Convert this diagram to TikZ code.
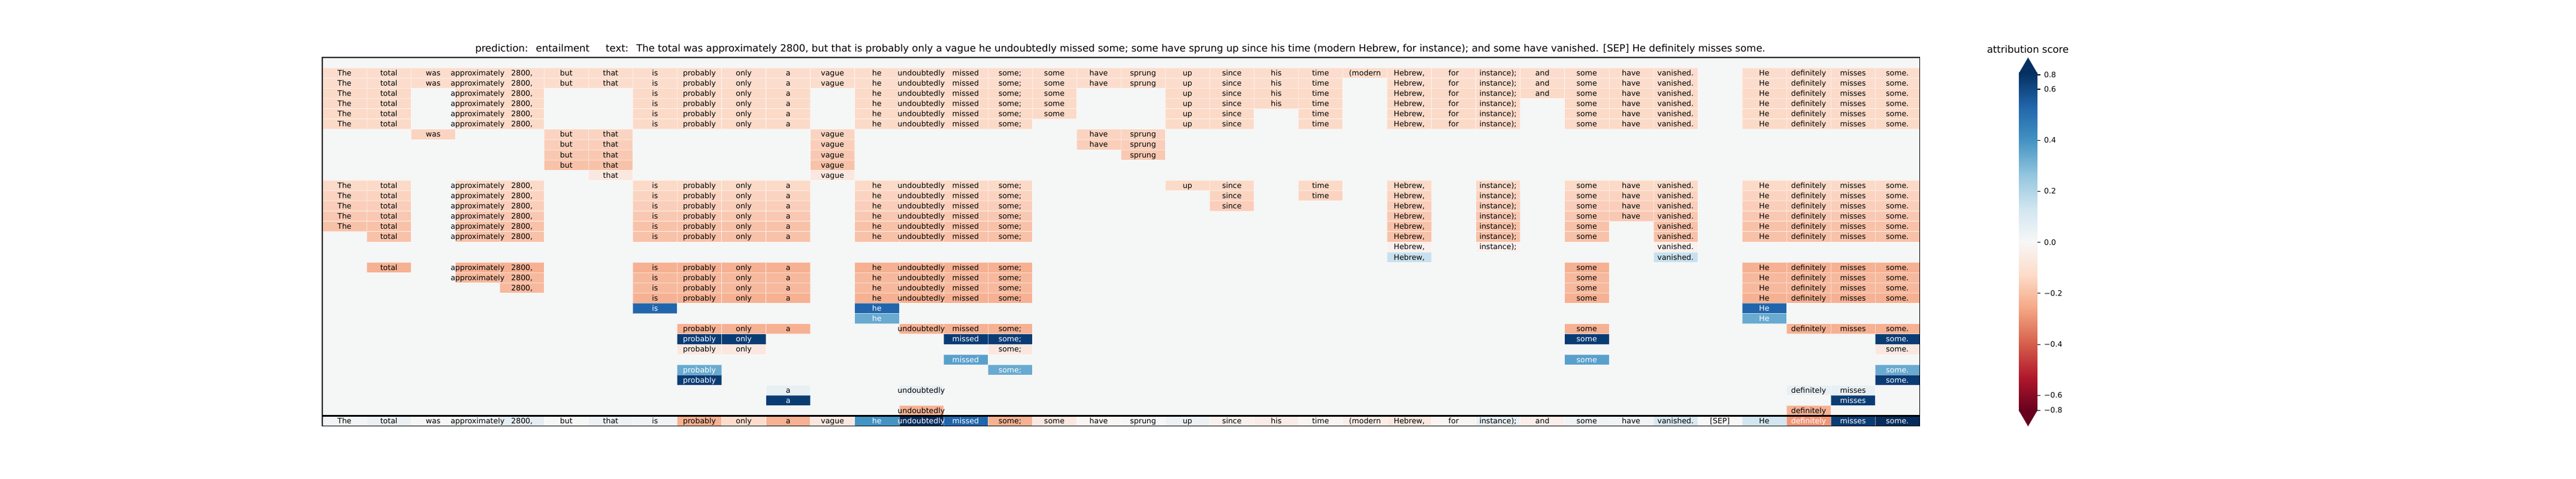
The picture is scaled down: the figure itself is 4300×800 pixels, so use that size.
\documentclass[tikz,border=0pt]{standalone}
\usepackage{fontspec}
\setmainfont{DejaVu Sans}
\usepackage{tikz}

% colour of a cell and colour of its text
\newcommand\hmcolor[3]{\definecolor{#1}{RGB}{#2}\colorlet{#1txt}{#3}}
\hmcolor{bg}{245,246,246}{black}
\hmcolor{r0}{250,240,237}{black}
\hmcolor{r1}{250,232,224}{black}
\hmcolor{r2}{252,221,205}{black}
\hmcolor{r3}{252,218,200}{black}
\hmcolor{r4}{251,212,193}{black}
\hmcolor{r5}{250,206,186}{black}
\hmcolor{r6}{249,200,178}{black}
\hmcolor{r7}{248,194,169}{black}
\hmcolor{r8}{247,185,157}{black}
\hmcolor{r9}{246,177,147}{black}
\hmcolor{rx}{241,150,120}{white}
\hmcolor{b0}{232,240,244}{black}
\hmcolor{b1}{201,225,238}{black}
\hmcolor{b2}{104,170,208}{white}
\hmcolor{b3}{88,160,204}{white}
\hmcolor{bm}{67,147,195}{white}
\hmcolor{b4}{33,102,172}{white}
\hmcolor{b5}{10,60,116}{white}
\hmcolor{b6}{5,45,92}{white}
\hmcolor{n1}{242,244,246}{black}
\hmcolor{n2}{234,240,244}{black}
\hmcolor{n3}{246,246,246}{black}
\hmcolor{n4}{239,243,246}{black}
\hmcolor{n5}{228,237,243}{black}
\hmcolor{n6}{245,246,246}{black}
\hmcolor{n7}{235,241,245}{black}
\hmcolor{n8}{240,243,246}{black}
\hmcolor{n9}{248,245,243}{black}
\hmcolor{n10}{245,246,247}{black}
\hmcolor{n11}{236,241,245}{black}
\hmcolor{n12}{249,240,236}{black}
\hmcolor{n13}{249,235,229}{black}
\hmcolor{n14}{248,244,242}{black}
\hmcolor{n15}{250,236,230}{black}
\hmcolor{n16}{248,244,242}{black}
\hmcolor{n17}{230,239,245}{black}
\hmcolor{n18}{249,238,233}{black}
\hmcolor{n19}{238,243,246}{black}
\hmcolor{n20}{240,244,246}{black}
\hmcolor{n21}{215,232,241}{black}
\hmcolor{n22}{247,247,247}{black}
\hmcolor{n23}{210,229,240}{black}

% colorbar stops
\definecolor{cb0}{RGB}{103,0,31}
\definecolor{cb1}{RGB}{178,24,43}
\definecolor{cb2}{RGB}{214,96,77}
\definecolor{cb3}{RGB}{244,165,130}
\definecolor{cb4}{RGB}{253,219,199}
\definecolor{cb5}{RGB}{247,247,247}
\definecolor{cb6}{RGB}{209,229,240}
\definecolor{cb7}{RGB}{146,197,222}
\definecolor{cb8}{RGB}{67,147,195}
\definecolor{cb9}{RGB}{33,102,172}
\definecolor{cb10}{RGB}{5,48,97}

% tokens, one per column
\foreach \w [count=\i] in {The,total,was,approximately,{2800,},but,that,is,probably,only,a,vague,he,undoubtedly,missed,{some;},some,have,sprung,up,since,his,time,{(modern},{Hebrew,},for,{instance);},and,some,have,vanished.,{[SEP]},He,definitely,misses,some.}
  {\expandafter\xdef\csname tk\i\endcsname{\w}}

% row / colour / columns
\def\hmrows{%
  1/r2/{1,2,3,4,5,6,7,8,9,10,11,12,13,14,15,16,17,18,19,20,21,22,23,24,25,26,27,28,29,30,31,33,34,35,36},
  2/r2/{1,2,3,4,5,6,7,8,9,10,11,12,13,14,15,16,17,18,19,20,21,22,23,25,26,27,28,29,30,31,33,34,35,36},
  3/r3/{1,2,4,5,8,9,10,11,13,14,15,16,17,20,21,22,23,25,26,27,28,29,30,31,33,34,35,36},
  4/r3/{1,2,4,5,8,9,10,11,13,14,15,16,17,20,21,22,23,25,26,27,29,30,31,33,34,35,36},
  5/r3/{1,2,4,5,8,9,10,11,13,14,15,16,17,20,21,23,25,26,27,29,30,31,33,34,35,36},
  6/r3/{1,2,4,5,8,9,10,11,13,14,15,16,20,21,23,25,26,27,29,30,31,33,34,35,36},
  7/r4/{3,6,7,12,18,19},
  8/r5/{6,7,12,18,19},
  9/r6/{6,7,12,19},
  10/r7/{6,7,12},
  11/r1/{7,12},
  12/r3/{1,2,4,5,8,9,10,11,13,14,15,16,20,21,23,25,27,29,30,31,33,34,35,36},
  13/r4/{1,2,4,5,8,9,10,11,13,14,15,16,21,23,25,27,29,30,31,33,34,35,36},
  14/r5/{1,2,4,5,8,9,10,11,13,14,15,16,21,25,27,29,30,31,33,34,35,36},
  15/r6/{1,2,4,5,8,9,10,11,13,14,15,16,25,27,29,30,31,33,34,35,36},
  16/r7/{1,2,4,5,8,9,10,11,13,14,15,16,25,27,29,31,33,34,35,36},
  17/r7/{2,4,5,8,9,10,11,13,14,15,16,25,27,29,31,33,34,35,36},
  18/r0/{25,27,31},
  19/b1/{25,31},
  20/r9/{2,4,5,8,9,10,11,13,14,15,16,29,33,34,35,36},
  21/r8/{4,5,8,9,10,11,13,14,15,16,29,33,34,35,36},
  22/r8/{5,8,9,10,11,13,14,15,16,29,33,34,35,36},
  23/r9/{8,9,10,11,13,14,15,16,29,33,34,35,36},
  24/b4/{8,13,33},
  25/b2/{13,33},
  26/r9/{9,10,11,14,15,16,29,34,35,36},
  27/b5/{9,10,15,16,29,36},
  28/r1/{9,10,16,36},
  29/b3/{15,29},
  30/b2/{9,16,36},
  31/b5/{9,36},
  32/b0/{11,14,34,35},
  33/b5/{11,35},
  34/r9/{14,34}}
% input row: column / colour
\def\hmlast{1/n1,2/n2,3/n3,4/n4,5/n5,6/n6,7/n7,8/n8,9/r9,10/r2,11/r9,12/r1,13/bm,14/b6,15/b4,16/r9,17/r1,18/n9,19/n10,20/n11,21/n12,22/n13,23/n14,24/n15,25/r1,26/n16,27/n17,28/n18,29/n19,30/n20,31/n21,32/n22,33/n23,34/rx,35/b5,36/b6}

\begin{document}
\begin{tikzpicture}[%
      x=1pt,y=-1pt,
      tok/.style={inner sep=0pt, text height=9.1pt, text depth=0pt,
        font=\fontsize{12.5}{14}\selectfont},
      cellbox/.style={draw=white, draw opacity=0.5, line width=0.5pt},
      ]
      \useasboundingbox (0,0) rectangle (4300,800);

      \node[font=\fontsize{16.5}{20}\selectfont] (title) at (1870,82)
        {prediction:\hspace{13pt}entailment\hspace{27pt}text:\hspace{13pt}The total was approximately 2800, but that is probably only a vague he undoubtedly missed some; some have sprung up since his time (modern Hebrew, for instance); and some have vanished. [SEP] He definitely misses some.};

      \begin{scope}[shift={(538,96)},x=74.06pt,y=-17.1pt]
      \fill[bg] (0,0) rectangle (36,36);
      % cells
      \foreach \rw/\hc/\cols in \hmrows {
        \foreach \col in \cols
          \filldraw[cellbox, fill=\hc] (\col-1,\rw) rectangle (\col,\rw+1);
      }
      \foreach \col/\hc in \hmlast
        \filldraw[cellbox, fill=\hc] (\col-1,35) rectangle (\col,36);
      % texts
      \foreach \rw/\hc/\cols in \hmrows {
        \foreach \col in \cols
          \node[tok, text=\hc txt] (t\rw-\col) at (\col-0.5,\rw+0.5) {\csname tk\col\endcsname};
      }
      \foreach \col/\hc in \hmlast
        \node[tok, text=\hc txt] (t35-\col) at (\col-0.5,35.5) {\csname tk\col\endcsname};

      \draw[line width=2.2pt] (0,35) -- (36,35);
      \draw[line width=1.1pt] (0,0) rectangle (36,36);
      \end{scope}

      % colorbar
      \foreach \ct/\cb [count=\j from 0] in {cb10/cb9,cb9/cb8,cb8/cb7,cb7/cb6,cb6/cb5,cb5/cb4,cb4/cb3,cb3/cb2,cb2/cb1,cb1/cb0}
        \shade[top color=\ct, bottom color=\cb] (3370,122+56.4*\j-0.3) rectangle (3400.7,122+56.4*\j+56.7);
      \fill[cb10] (3370,122.3) -- (3385.35,96) -- (3400.7,122.3) -- cycle;
      \fill[cb0] (3370,685.7) -- (3385.35,712) -- (3400.7,685.7) -- cycle;
      \foreach \v/\y [count=\k] in {0.8/125,0.6/149,0.4/234.1,0.2/319.2,0.0/404.7,−0.2/489.8,−0.4/575.4,−0.6/660.1,−0.8/685.3} {
        \draw[line width=1.1pt] (3400.7,\y) -- (3405.6,\y);
        \node[anchor=west, inner sep=0pt, font=\fontsize{12.5}{14}\selectfont] (cbt\k) at (3412,\y) {\v};
      }
      \node[font=\fontsize{16.5}{20}\selectfont] (cblabel) at (3385,82) {attribution score};
\end{tikzpicture}
\end{document}
